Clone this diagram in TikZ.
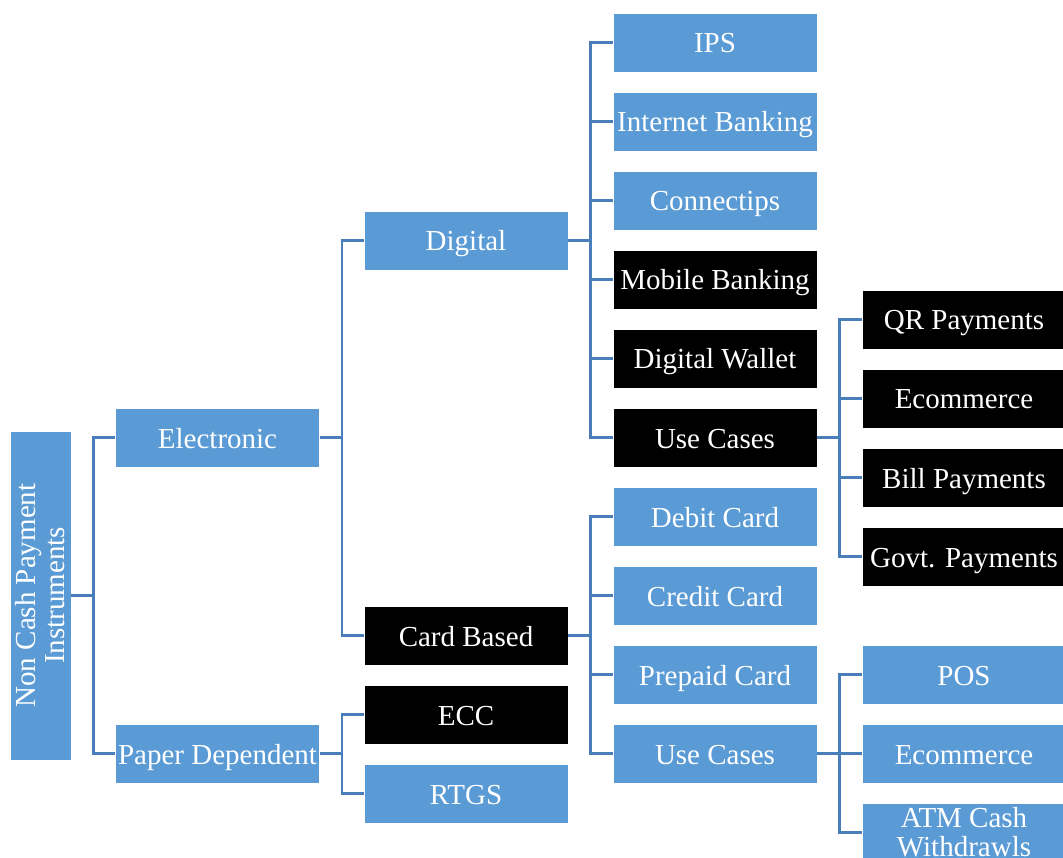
\documentclass[tikz,border=0pt]{standalone}
\usepackage{fontspec}
\setmainfont{Liberation Serif}
\definecolor{boxblue}{RGB}{91,155,213}
\definecolor{lineblue}{RGB}{74,126,187}

\begin{document}
\begin{tikzpicture}[x=1pt,y=-1pt,
    box/.style={draw=white,line width=0.8pt,minimum width=204pt,minimum height=59pt,
        inner sep=0pt,text=white,align=center,font=\fontsize{29}{29}\selectfont},
    oneline/.style={text height=24pt,text depth=3pt},
    link/.style={lineblue,line width=2.5pt}]
    % Page size in pixels of the original
    \useasboundingbox (0,0) rectangle (1063,858);

    % Root and first levels:
    \node [box,fill=boxblue,rotate=90,minimum width=329pt,minimum height=61pt] (root) at (40.5,595.5) {Non Cash Payment\\Instruments};
    \node [box,oneline,fill=boxblue] (elec)  at (217.5,437.5) {Electronic};
    \node [box,oneline,fill=boxblue] (paper) at (217.5,753.5) {Paper Dependent};
    \node [box,oneline,fill=boxblue] (dig)   at (466,240.5) {Digital};
    \node [box,oneline,fill=black]   (card)  at (466,635.5) {Card Based};
    \node [box,oneline,fill=black]   (ecc)   at (466,714.5) {ECC};
    \node [box,oneline,fill=boxblue] (rtgs)  at (466,793.5) {RTGS};

    % Third column, one row every 79px:
    \foreach \nm/\yy/\fc/\txt in {ips/42.5/boxblue/IPS, inet/121.5/boxblue/Internet Banking,
        conn/200.5/boxblue/Connectips, mob/279.5/black/Mobile Banking,
        wall/358.5/black/Digital Wallet, usedig/437.5/black/Use Cases,
        debit/516.5/boxblue/Debit Card, credit/595.5/boxblue/Credit Card,
        prep/674.5/boxblue/Prepaid Card, usecard/753.5/boxblue/Use Cases}{%
        \node [box,oneline,fill=\fc] (\nm) at (715,\yy) {\txt};
    }

    % Fourth column (cut by the page edge):
    \foreach \nm/\yy/\fc/\txt in {qr/319.5/black/QR Payments, ecomd/398.5/black/Ecommerce,
        bill/477.5/black/Bill Payments, govt/556.5/black/Govt. Payments,
        pos/674.5/boxblue/POS, ecomc/753.5/boxblue/Ecommerce}{%
        \node [box,oneline,fill=\fc] (\nm) at (964,\yy) {\txt};
    }
    \node [box,fill=boxblue] (atm) at (964,832.5) {ATM Cash\\Withdrawls};

    % Elbow connectors: out of the parent, down the bus, into the child
    \draw [link] (root.south) -- ++(22,0) |- (elec.west);
    \draw [link] (root.south) -- ++(22,0) |- (paper.west);
    \foreach \p/\c in {elec/dig, elec/card, paper/ecc, paper/rtgs,
        dig/ips, dig/inet, dig/conn, dig/mob, dig/wall, dig/usedig,
        card/debit, card/credit, card/prep, card/usecard,
        usedig/qr, usedig/ecomd, usedig/bill, usedig/govt,
        usecard/pos, usecard/ecomc, usecard/atm}{%
        \draw [link] (\p.east) -- ++(22,0) |- (\c.west);
    }
\end{tikzpicture}
\end{document}
